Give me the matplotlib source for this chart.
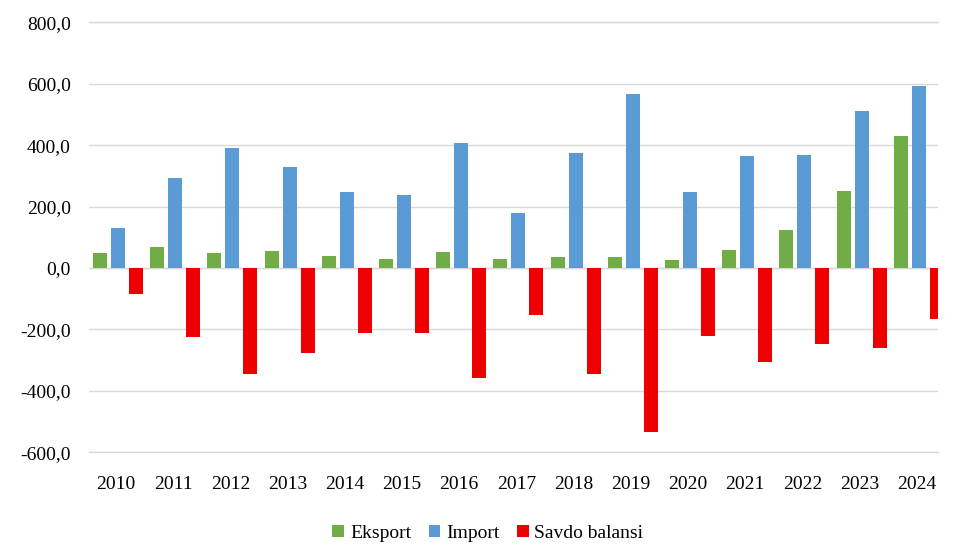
import numpy as np
import matplotlib
matplotlib.use("Agg")
import matplotlib.pyplot as plt
from matplotlib.ticker import FuncFormatter

# ── data ─────────────────────────────────────────────────────────────────────
years = ["2010", "2011", "2012", "2013", "2014", "2015", "2016", "2017",
         "2018", "2019", "2020", "2021", "2022", "2023", "2024"]
eksport = [49, 68, 49, 55, 39, 29, 52, 29, 36, 36, 26, 59, 124, 251, 430]
import_ = [130, 293, 391, 329, 248, 238, 407, 179, 375, 567, 248, 365, 368, 511, 593]
balans = [-85, -225, -345, -277, -212, -212, -358, -152, -345, -534, -221,
          -306, -248, -261, -166]

plt.rcParams["font.family"] = ["Liberation Serif", "DejaVu Serif"]

fig = plt.figure(figsize=(9.7, 5.6), dpi=100)
ax = fig.add_axes([0.0918, 0.1923, 0.8752, 0.7679])

x = np.arange(len(years))
w = 0.245
ax.bar(x - 0.28, eksport, w, color="#70AD47", label="Eksport", zorder=3)
ax.bar(x + 0.035, import_, w, color="#5B9BD5", label="Import", zorder=3)
ax.bar(x + 0.35, balans, w, color="#EE0000", label="Savdo balansi", zorder=3)

ax.set_xlim(-0.472, 14.37)
ax.set_ylim(-600, 800)
ax.set_yticks(np.arange(-600, 801, 200))
ax.yaxis.set_major_formatter(FuncFormatter(lambda v, p: f"{v:.1f}".replace(".", ",")))
ax.grid(axis="y", color="#D9D9D9", linewidth=1, zorder=0)
ax.axhline(0, color="#D9D9D9", linewidth=1, zorder=2)
ax.axhline(-600, color="#D9D9D9", linewidth=1, zorder=0, clip_on=False)
ax.axhline(800, color="#D9D9D9", linewidth=1, zorder=0, clip_on=False)
for s in ax.spines.values():
    s.set_visible(False)

ax.set_xticks(x)
ax.set_xticklabels(years)
ax.tick_params(axis="x", length=0, pad=17, labelsize=14)
ax.tick_params(axis="y", length=0, pad=13, labelsize=14)

fig.legend(loc="center", bbox_to_anchor=(0.503, 0.048), ncol=3, frameon=False,
           fontsize=14, handlelength=0.6, handleheight=0.6, handletextpad=0.3,
           columnspacing=0.9)

fig.savefig("out.png", dpi=100)
